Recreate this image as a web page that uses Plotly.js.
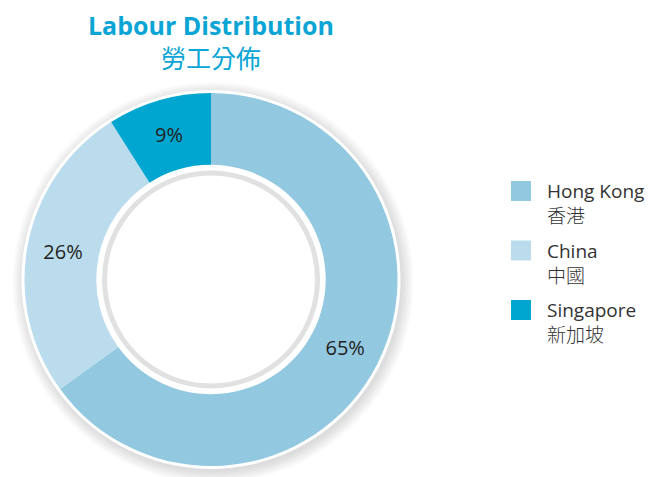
<!DOCTYPE html>
<html>
<head>
<meta charset="utf-8">
<script src="https://cdn.plot.ly/plotly-3.0.1.min.js"></script>
<style>html,body{margin:0;padding:0;background:#fff;}#chart{width:651px;height:477px;}</style>
</head>
<body>
<div id="chart"></div>
<script>
// ---- data ----
const categoriesEn = ["Hong Kong", "China", "Singapore"];
const categoriesZh = ["香港", "中國", "新加坡"];
const shares = [65, 26, 9];
const colors = ["#93C8E1", "#BBDCEC", "#00A6D0"];
const titleEn = "Labour Distribution";
const titleZh = "勞工分佈";

// ---- geometry (pixels) ----
const W = 651, H = 477;
const cx = 211, cy = 279.5, R = 186.5;
const px = v => v / W;
const py = v => (H - v) / H;
const cjk = "Noto Sans CJK TC";

const shapes = [];
// soft shadow around the donut (offset to lower right)
for (let k = 0; k < 7; k++) {
  const r = 189.5 + k * 1.8;
  shapes.push({type: "circle", xref: "paper", yref: "paper", layer: "below",
    x0: px(cx + 2 - r), x1: px(cx + 2 + r), y0: py(cy + 3 + r), y1: py(cy + 3 - r),
    fillcolor: "rgba(120,120,120,0.035)", line: {width: 0}});
}
// white outer ring
shapes.push({type: "circle", xref: "paper", yref: "paper", layer: "below",
  x0: px(cx - 189.5), x1: px(cx + 189.5), y0: py(cy + 189.5), y1: py(cy - 189.5),
  fillcolor: "#ffffff", line: {width: 0}});
// inner grey ring
const ri = 106.5;
shapes.push({type: "circle", xref: "paper", yref: "paper", layer: "above",
  x0: px(cx - ri), x1: px(cx + ri), y0: py(cy + ri), y1: py(cy - ri),
  fillcolor: "rgba(0,0,0,0)", line: {width: 5, color: "#E1E1E1"}});

const annotations = [];
// title (two lines)
annotations.push({xref: "paper", yref: "paper", x: px(211), y: py(42), xanchor: "center", yanchor: "middle",
  showarrow: false,
  text: "<b>" + titleEn + "</b><br><span style='font-family:" + cjk + ";font-size:25px'>" + titleZh + "</span>",
  font: {family: "Open Sans, sans-serif", size: 25, color: "#0AA5D5"}});

// custom legend
const legX = 511, legTop = 181, legStep = 59.5, sq = 20;
categoriesEn.forEach((name, i) => {
  const top = legTop + i * legStep;
  shapes.push({type: "rect", xref: "paper", yref: "paper",
    x0: px(legX), x1: px(legX + sq), y0: py(top + sq), y1: py(top),
    fillcolor: colors[i], line: {width: 0}});
  annotations.push({xref: "paper", yref: "paper", x: px(545), y: py(top + 22),
    xanchor: "left", yanchor: "middle", align: "left", showarrow: false,
    text: name + "<br><span style='font-family:" + cjk + ";font-size:19px;font-weight:300'>" + categoriesZh[i] + "</span>",
    font: {family: "Open Sans, sans-serif", size: 19, color: "#333333"}});
});

const trace = {
  type: "pie",
  values: shares,
  labels: categoriesEn,
  sort: false,
  direction: "clockwise",
  rotation: 0,
  hole: 0.615,
  marker: {colors: colors, line: {width: 0}},
  texttemplate: "%{value}%",
  textposition: "inside",
  insidetextorientation: "horizontal",
  textfont: {family: "Open Sans, sans-serif", size: 20, color: "#231F20"},
  hoverinfo: "none",
  domain: {x: [px(cx - R), px(cx + R)], y: [py(cy + R), py(cy - R)]}
};

const layout = {
  width: W, height: H,
  margin: {l: 0, r: 0, t: 0, b: 0},
  paper_bgcolor: "#ffffff",
  showlegend: false,
  shapes: shapes,
  annotations: annotations
};

Plotly.newPlot("chart", [trace], layout, {displayModeBar: false, staticPlot: true});
</script>
</body>
</html>
